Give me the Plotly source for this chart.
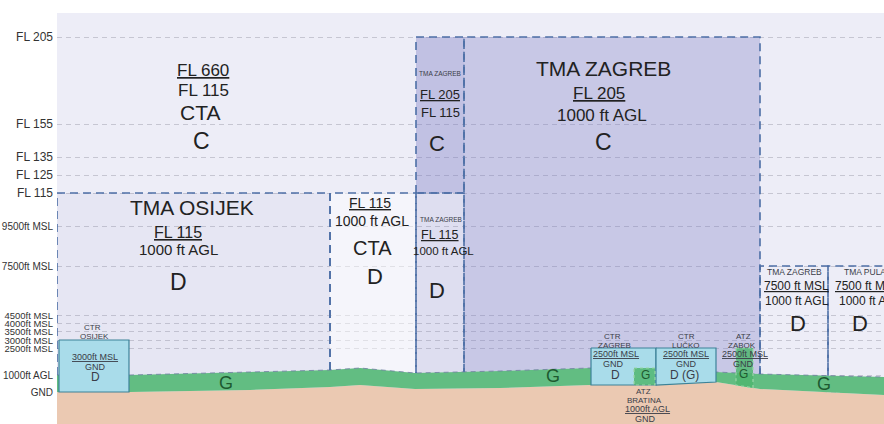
import numpy as np
import plotly.graph_objects as go

FONT = "Liberation Sans, Arial, sans-serif"

# ---------------- data ----------------
# schematic vertical levels of the cross-section (non-linear diagram scale, top -> bottom)
level_labels = ["FL 205", "FL 155", "FL 135", "FL 125", "FL 115", "9500ft MSL", "7500ft MSL",
                "4500ft MSL", "4000ft MSL", "3500ft MSL", "3000ft MSL", "2500ft MSL", "1000ft AGL", "GND"]
level_pos = [37, 124, 157, 175, 193, 226, 266, 315, 323, 331, 340, 348, 375, 392]
level_font = [12, 12, 12, 12, 12, 10, 10, 9.5, 9.5, 9.5, 9.5, 9.5, 10, 10]
LV = dict(zip(level_labels, level_pos))

# terrain profile along the section
terrain_x = [57, 130, 250, 330, 360, 415, 500, 590, 656, 716, 760, 884]
terrain_agl = [375, 375, 372, 370, 368, 373, 371, 368, 368, 372, 374, 377]   # 1000 ft AGL (top of class G)
terrain_gnd = [392, 392, 390, 387, 385, 389, 388, 385, 385, 382, 389, 395]   # ground

# controlled sectors (dashed boxes)
sector_names = ["TMA OSIJEK", "CTA", "TMA ZAGREB upper", "TMA ZAGREB lower", "TMA ZAGREB", "TMA ZAGREB east", "TMA PULA"]
sector_x0 = [57, 330, 416, 416, 464, 760, 828]
sector_x1 = [330, 416, 464, 464, 760, 828, 900]
sector_top = ["FL 115", "FL 115", "FL 205", "FL 115", "FL 205", "7500ft MSL", "7500ft MSL"]
sector_bottom = ["AGL", "AGL", "FL 115", "AGL", "AGL", "AGL", "AGL"]
sector_fill = ["rgba(120,122,195,0.06)", "rgba(255,255,255,0.45)", "rgba(120,122,195,0.38)",
               "rgba(120,122,195,0.13)", "rgba(120,122,195,0.32)", "rgba(0,0,0,0)", "rgba(0,0,0,0)"]

# control zones
ctr_names = ["CTR OSIJEK", "CTR ZAGREB", "CTR LUČKO"]
ctr_x0 = [59, 591, 656]
ctr_x1 = [129, 656, 716]
ctr_top = ["3000ft MSL", "2500ft MSL", "2500ft MSL"]

# aerodrome traffic zones
atz_names = ["ATZ BRATINA", "ATZ ZABOK"]
atz_x0 = [634, 736]
atz_x1 = [655, 753]
atz_top = ["AGL", "2500ft MSL"]

# ---------------- helpers ----------------
def prof_at(x, prof):
    return float(np.interp(x, terrain_x, prof))


def level_y(name, x):
    if name == "AGL":
        return prof_at(x, terrain_agl)
    if name == "GND":
        return prof_at(x, terrain_gnd)
    return LV[name]


def back_along(x0, x1, prof):
    inner = [x for x in terrain_x if x0 < x < x1]
    xs = [x1] + inner[::-1] + [x0]
    return xs, [prof_at(x, prof) for x in xs]


fig = go.Figure()

# sector fills
for x0, x1, top, bot, col in zip(sector_x0, sector_x1, sector_top, sector_bottom, sector_fill):
    if bot == "AGL":
        bx, by = back_along(x0, x1, terrain_agl)
    else:
        bx, by = [x1, x0], [LV[bot], LV[bot]]
    xs = [x0, x1] + bx + [x0]
    ys = [LV[top], LV[top]] + by + [LV[top]]
    fig.add_trace(go.Scatter(x=xs, y=ys, fill="toself", fillcolor=col, mode="none",
                             hoverinfo="skip", showlegend=False))

# terrain
fig.add_trace(go.Scatter(x=terrain_x + [terrain_x[-1] + 20, terrain_x[-1] + 20, terrain_x[0] - 5, terrain_x[0] - 5],
                         y=terrain_gnd + [terrain_gnd[-1], 430, 430, terrain_gnd[0]],
                         fill="toself", fillcolor="#ebc9b2", mode="none", hoverinfo="skip", showlegend=False))
fig.add_trace(go.Scatter(x=terrain_x + terrain_x[::-1], y=terrain_agl + terrain_gnd[::-1],
                         fill="toself", fillcolor="#62bd82", mode="none", hoverinfo="skip", showlegend=False))
fig.add_trace(go.Scatter(x=terrain_x, y=terrain_agl, mode="lines",
                         line=dict(color="rgba(110,125,160,0.8)", width=1, dash="5px,4px"),
                         hoverinfo="skip", showlegend=False))

# sector borders
for x0, x1, top, bot in zip(sector_x0, sector_x1, sector_top, sector_bottom):
    yb0 = level_y(bot, x0)
    yb1 = level_y(bot, x1)
    fig.add_trace(go.Scatter(x=[x0, x0, x1, x1], y=[yb0, LV[top], LV[top], yb1], mode="lines",
                             line=dict(color="#4d6fa6", width=1.6, dash="8px,5px"),
                             hoverinfo="skip", showlegend=False))
    if bot != "AGL":
        fig.add_trace(go.Scatter(x=[x0, x1], y=[yb0, yb1], mode="lines",
                                 line=dict(color="#4d6fa6", width=1.6, dash="8px,5px"),
                                 hoverinfo="skip", showlegend=False))

# CTR boxes
for x0, x1, top in zip(ctr_x0, ctr_x1, ctr_top):
    bx, by = back_along(x0, x1, terrain_gnd)
    xs = [x0, x1] + bx + [x0]
    ys = [LV[top], LV[top]] + by + [LV[top]]
    fig.add_trace(go.Scatter(x=xs, y=ys, fill="toself", fillcolor="#a9dcea", mode="lines",
                             line=dict(color="#3d8298", width=1.2), hoverinfo="skip", showlegend=False))

# ATZ boxes
for x0, x1, top in zip(atz_x0, atz_x1, atz_top):
    yt = level_y(top, (x0 + x1) / 2)
    bx, by = back_along(x0, x1, terrain_gnd)
    xs = [x0, x1] + bx + [x0]
    ys = [yt, yt] + by + [yt]
    fig.add_trace(go.Scatter(x=xs, y=ys, fill="toself", fillcolor="rgba(80,182,112,0.85)", mode="lines",
                             line=dict(color="#9ad6a8", width=1.2, dash="dot"), hoverinfo="skip", showlegend=False))

# ---------------- labels ----------------
DARK = "#222222"
SMALL = "#3a3d48"
GREEN = "#1d5a30"
labels = [
    ("<u>FL 660</u>", 203, 70, 17, DARK), ("FL 115", 203, 90, 17, DARK), ("CTA", 200, 112, 21, DARK), ("C", 201, 141, 23, DARK),
    ("TMA OSIJEK", 192, 207, 21, DARK), ("<u>FL 115</u>", 178, 232, 16, DARK), ("1000 ft AGL", 178, 249, 15, DARK), ("D", 178, 282, 23, DARK),
    ("<u>FL 115</u>", 370, 203, 14, DARK), ("1000 ft AGL", 372, 221, 14, DARK), ("CTA", 372, 248, 20, DARK), ("D", 375, 276, 22, DARK),
    ("TMA ZAGREB", 440, 73, 6.5, SMALL), ("<u>FL 205</u>", 440, 94, 13, DARK), ("FL 115", 440, 112, 13, DARK), ("C", 437, 143, 22, DARK),
    ("TMA ZAGREB", 441, 219, 6.5, SMALL), ("<u>FL 115</u>", 440, 235, 12.5, DARK), ("1000 ft AGL", 443, 251, 11.5, DARK), ("D", 437, 290, 22, DARK),
    ("TMA ZAGREB", 603, 68, 21, DARK), ("<u>FL 205</u>", 599, 93, 17, DARK), ("1000 ft AGL", 602, 115, 17, DARK), ("C", 603, 142, 23, DARK),
    ("TMA ZAGREB", 794, 272, 8.5, SMALL), ("<u>7500 ft MSL</u>", 796, 286, 12, DARK), ("1000 ft AGL", 797, 301, 12, DARK), ("D", 798, 323, 22, DARK),
    ("TMA PULA", 865, 272, 8.5, SMALL), ("<u>7500 ft MSL</u>", 867, 286, 12, DARK), ("1000 ft AGL", 871, 301, 12, DARK), ("D", 860, 323, 22, DARK),
    ("CTR", 92, 327, 8, SMALL), ("OSIJEK", 94, 336, 8, SMALL), ("<u>3000ft MSL</u>", 95, 357, 9, SMALL), ("GND", 95, 367, 9, SMALL), ("D", 95, 377, 12, SMALL),
    ("CTR", 612, 336, 8, SMALL), ("ZAGREB", 614, 345, 8, SMALL), ("<u>2500ft MSL</u>", 616, 354, 9, SMALL), ("GND", 613, 364, 9, SMALL), ("D", 615, 375, 12, SMALL),
    ("G", 645, 375, 12, GREEN), ("ATZ", 643, 391, 8, SMALL), ("BRATINA", 644, 400, 8, SMALL), ("<u>1000ft AGL</u>", 647, 409, 9, SMALL), ("GND", 645, 419, 9, SMALL),
    ("CTR", 686, 336, 8, SMALL), ("LUČKO", 686, 345, 8, SMALL), ("<u>2500ft MSL</u>", 686, 354, 9, SMALL), ("GND", 686, 364, 9, SMALL), ("D (G)", 684, 375, 12, SMALL),
    ("ATZ", 743, 336, 8, SMALL), ("ZABOK", 742, 345, 8, SMALL), ("<u>2500ft MSL</u>", 745, 354, 9, SMALL), ("GND", 743, 364, 9, SMALL), ("G", 743, 374, 12, GREEN),
    ("G", 226, 383, 18, GREEN), ("G", 553, 376, 18, GREEN), ("G", 824, 384, 18, GREEN),
]
for text, x, y, size, color in labels:
    fig.add_annotation(x=x, y=y, text=text, showarrow=False, xanchor="center", yanchor="middle",
                       font=dict(family=FONT, size=size, color=color), borderpad=0)

ticktext = [f'<span style="font-size:{s}px">{t}</span>' for t, s in zip(level_labels, level_font)]

fig.update_layout(
    width=884, height=424,
    margin=dict(l=57, r=0, t=13, b=0),
    paper_bgcolor="white",
    plot_bgcolor="#ededf7",
    font=dict(family=FONT, size=10, color="#333333"),
    showlegend=False,
    xaxis=dict(range=[57, 884], visible=False, showgrid=False, zeroline=False, fixedrange=True),
    yaxis=dict(range=[424, 13], tickmode="array", tickvals=level_pos, ticktext=ticktext,
               showgrid=True, gridcolor="rgba(165,165,180,0.55)", gridwidth=1, griddash="5px,4px",
               zeroline=False, showline=False, ticks="", ticklabelstandoff=3,
               tickfont=dict(family=FONT, size=10, color="#333333"), fixedrange=True),
)

fig.write_html("out.html", config={"displayModeBar": False},
               post_script="document.body.style.margin='0';document.body.style.overflow='hidden';")
